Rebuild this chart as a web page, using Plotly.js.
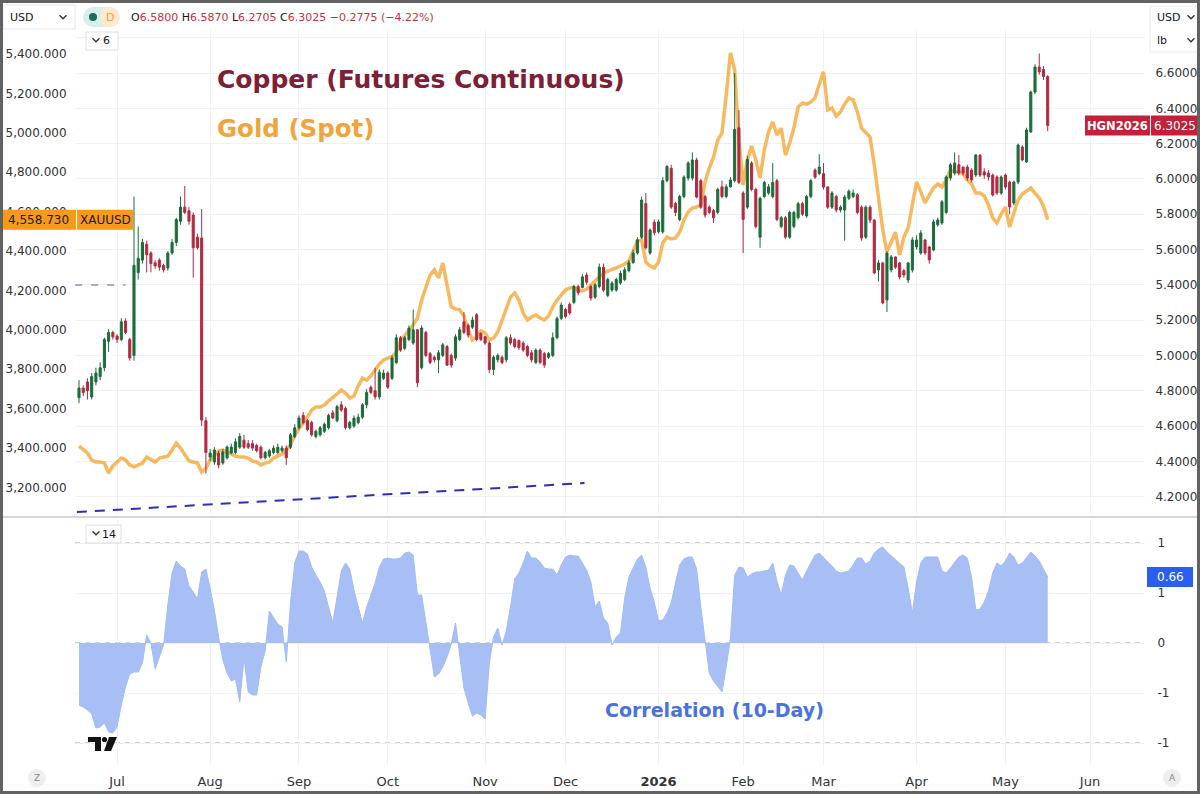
<!DOCTYPE html>
<html><head><meta charset="utf-8">
<script src="https://cdn.plot.ly/plotly-3.0.1.min.js"></script>
<style>
html,body{margin:0;padding:0;background:#fff;}
#chart{width:1200px;height:794px;position:absolute;left:0;top:0;}
#frame{position:absolute;left:0;top:0;width:1200px;height:794px;box-sizing:border-box;border:3px solid #626262;pointer-events:none;}
</style>
</head><body>
<div id="chart"></div><div id="frame"></div>
<script>
// ---------------- DATA ----------------
const monthIdx  = [9,31,52,73,96,115,137,157,176,198,219,239];
const monthText = ['Jul','Aug','Sep','Oct','Nov','Dec','<b>2026</b>','Feb','Mar','Apr','May','Jun'];

const goldTicks   = [3200,3400,3600,3800,4000,4200,4400,4600,4800,5000,5200,5400];
const copperTicks = [4.2,4.4,4.6,4.8,5.0,5.2,5.4,5.6,5.8,6.0,6.2,6.4,6.6,6.8];
const corrTicks   = [-1,-0.5,0,0.5,1];
const corrTickText= ['-1','-1','0','1','1'];

const copperOpen = [
4.76,4.815,4.85,4.765,4.85,4.88,4.93,5.08,5.13,5.11,
5.09,5.195,5.09,5.00,5.47,5.54,5.63,5.58,5.525,5.54,
5.51,5.495,5.58,5.64,5.76,5.84,5.82,5.795,5.67,5.665,
4.63,4.424,4.396,4.447,4.39,4.419,4.447,4.45,4.48,4.52,
4.50,4.50,4.49,4.48,4.42,4.43,4.45,4.45,4.46,4.475,
4.48,4.54,4.59,4.66,4.63,4.62,4.54,4.55,4.57,4.59,
4.675,4.63,4.72,4.70,4.59,4.60,4.62,4.65,4.72,4.82,
4.80,4.765,4.87,4.90,4.87,4.96,5.10,5.04,5.09,5.07,
5.145,4.93,5.13,5.01,4.99,4.975,5.00,5.05,5.00,4.985,
5.09,5.19,5.17,5.16,5.23,5.125,5.105,5.07,4.92,4.975,
4.99,4.975,5.10,5.09,5.085,5.07,5.05,5.015,4.96,5.03,
5.01,4.99,5.00,5.10,5.21,5.26,5.29,5.30,5.39,5.385,
5.455,5.39,5.33,5.39,5.50,5.34,5.37,5.37,5.41,5.43,
5.48,5.525,5.58,5.67,5.86,5.58,5.755,5.70,5.70,5.99,
6.06,5.86,5.77,5.90,6.005,6.005,6.107,5.99,5.90,5.84,
5.82,5.81,5.955,5.90,5.955,5.99,6.29,5.92,5.84,6.09,
5.94,5.67,5.90,5.92,5.90,5.99,5.73,5.78,5.67,5.73,
5.78,5.86,5.79,5.90,6.05,6.03,6.03,5.954,5.84,5.90,
5.824,5.824,5.89,5.90,5.91,5.84,5.67,5.84,5.767,5.484,
5.524,5.314,5.484,5.558,5.524,5.48,5.427,5.484,5.614,5.58,
5.654,5.614,5.597,5.74,5.75,5.81,6.005,6.033,6.08,6.067,
6.067,6.05,6.022,6.135,6.04,6.033,6.022,6.011,5.92,6.022,
5.982,5.863,5.982,6.181,6.096,6.266,6.492,6.634,6.62,6.58];

const copperHigh = [
4.86,4.83,4.87,4.90,4.93,4.96,5.10,5.15,5.14,5.12,
5.21,5.21,5.10,5.90,5.73,5.66,5.65,5.59,5.54,5.55,
5.52,5.59,5.66,5.78,5.90,5.96,5.84,5.81,5.69,5.83,
4.65,4.47,4.48,4.46,4.47,4.49,4.50,4.53,4.56,4.55,
4.52,4.52,4.50,4.49,4.46,4.47,4.49,4.50,4.49,4.49,
4.56,4.61,4.66,4.68,4.64,4.63,4.58,4.60,4.62,4.67,
4.69,4.72,4.74,4.71,4.63,4.66,4.67,4.73,4.81,4.83,
4.93,4.92,4.92,4.91,5.00,5.12,5.11,5.11,5.17,5.26,
5.15,5.17,5.14,5.02,5.00,5.03,5.07,5.06,5.01,5.12,
5.16,5.245,5.18,5.22,5.24,5.13,5.11,5.08,5.00,5.01,
5.00,5.11,5.12,5.10,5.09,5.08,5.06,5.03,5.04,5.04,
5.02,5.02,5.13,5.22,5.30,5.27,5.30,5.40,5.40,5.46,
5.47,5.40,5.41,5.52,5.52,5.44,5.42,5.44,5.48,5.50,
5.54,5.60,5.67,5.90,5.92,5.72,5.77,5.77,6.01,6.08,
6.08,5.87,5.91,6.02,6.10,6.15,6.12,6.00,5.91,5.85,
5.83,5.95,5.99,5.97,6.01,6.60,6.39,5.93,6.13,6.10,
5.95,5.90,5.99,5.97,6.09,6.00,5.79,5.79,5.82,5.82,
5.87,5.87,5.91,6.00,6.06,6.14,6.09,5.96,5.93,5.91,
5.85,5.91,5.94,5.94,5.92,5.85,5.85,5.85,5.77,5.54,
5.53,5.59,5.57,5.56,5.53,5.49,5.53,5.67,5.68,5.71,
5.66,5.62,5.77,5.78,5.88,6.02,6.09,6.15,6.135,6.07,
6.08,6.06,6.14,6.14,6.06,6.05,6.03,6.02,6.02,6.03,
5.99,5.99,6.20,6.19,6.29,6.50,6.65,6.71,6.64,6.587];

const copperLow = [
4.73,4.77,4.75,4.75,4.83,4.86,4.91,5.02,5.09,5.07,
5.08,5.12,4.97,4.97,5.43,5.52,5.47,5.47,5.49,5.48,
5.47,5.48,5.57,5.62,5.74,5.80,5.74,5.44,5.60,4.60,
4.33,4.40,4.38,4.36,4.38,4.41,4.44,4.44,4.47,4.47,
4.47,4.46,4.45,4.41,4.41,4.42,4.44,4.44,4.45,4.38,
4.47,4.53,4.58,4.61,4.57,4.54,4.53,4.54,4.56,4.58,
4.64,4.62,4.68,4.58,4.58,4.59,4.61,4.64,4.70,4.78,
4.75,4.75,4.86,4.81,4.86,4.95,5.02,5.03,5.08,5.06,
4.82,4.92,4.99,4.95,4.96,4.90,4.99,4.94,4.93,4.97,
5.08,5.12,5.10,5.15,5.08,5.08,5.06,4.90,4.89,4.96,
4.95,4.96,5.06,5.04,5.03,5.02,4.99,4.96,4.95,4.95,
4.93,4.98,4.99,5.09,5.20,5.21,5.23,5.29,5.34,5.38,
5.40,5.31,5.32,5.38,5.36,5.33,5.36,5.36,5.40,5.42,
5.47,5.52,5.57,5.66,5.60,5.57,5.68,5.69,5.69,5.98,
5.83,5.79,5.76,5.89,5.99,5.99,5.89,5.83,5.78,5.80,
5.75,5.80,5.89,5.89,5.95,5.98,5.97,5.58,5.83,5.93,
5.72,5.61,5.89,5.91,5.89,5.76,5.72,5.66,5.66,5.72,
5.77,5.79,5.78,5.89,6.00,6.02,5.94,5.83,5.83,5.81,
5.81,5.65,5.88,5.89,5.80,5.65,5.66,5.75,5.46,5.42,
5.29,5.246,5.47,5.49,5.43,5.44,5.41,5.47,5.60,5.57,
5.57,5.52,5.59,5.73,5.74,5.80,5.99,6.02,6.02,6.02,
5.99,5.98,6.01,6.01,6.00,5.99,5.90,5.91,5.91,5.94,
5.80,5.85,5.97,6.10,6.09,6.26,6.48,6.59,6.56,6.2705];

const copperClose = [
4.815,4.79,4.80,4.88,4.90,4.93,5.09,5.13,5.105,5.09,
5.19,5.13,4.985,5.51,5.55,5.64,5.57,5.52,5.507,5.50,
5.485,5.58,5.64,5.77,5.84,5.81,5.76,5.61,5.61,4.634,
4.45,4.447,4.464,4.379,4.453,4.481,4.481,4.51,4.54,4.48,
4.48,4.475,4.46,4.42,4.45,4.46,4.475,4.48,4.475,4.42,
4.55,4.59,4.645,4.62,4.58,4.55,4.57,4.59,4.61,4.66,
4.645,4.71,4.69,4.59,4.62,4.645,4.65,4.72,4.79,4.79,
4.765,4.905,4.90,4.82,4.985,5.10,5.03,5.10,5.155,5.145,
4.845,5.155,5.00,4.96,4.975,5.015,5.06,4.945,4.945,5.105,
5.145,5.13,5.115,5.20,5.09,5.09,5.07,4.92,4.99,5.00,
4.96,5.10,5.07,5.05,5.045,5.03,5.00,4.975,5.03,4.96,
4.945,5.01,5.10,5.21,5.285,5.22,5.24,5.39,5.355,5.445,
5.415,5.325,5.40,5.50,5.37,5.43,5.41,5.43,5.465,5.485,
5.525,5.58,5.655,5.88,5.61,5.71,5.695,5.756,5.99,6.07,
5.84,5.81,5.90,6.01,6.09,6.107,5.897,5.84,5.795,5.81,
5.78,5.94,5.90,5.955,5.994,6.28,5.98,5.77,6.11,5.94,
5.73,5.89,5.98,5.955,5.98,5.77,5.78,5.67,5.81,5.81,
5.86,5.80,5.90,5.99,6.01,6.067,5.954,5.84,5.92,5.824,
5.84,5.897,5.93,5.92,5.81,5.665,5.84,5.767,5.467,5.524,
5.297,5.58,5.558,5.50,5.444,5.456,5.524,5.654,5.654,5.694,
5.58,5.541,5.756,5.767,5.87,6.011,6.08,6.09,6.033,6.033,
6.005,5.994,6.135,6.022,6.022,6.011,5.909,5.92,6.011,5.954,
5.841,5.982,6.192,6.107,6.277,6.492,6.634,6.606,6.58,6.3025];

const goldSpot = [
3410,3390,3375,3339,3329,3329,3324,3273,3309,3329,
3349,3339,3314,3304,3314,3324,3354,3339,3329,3349,
3354,3359,3390,3425,3400,3365,3334,3329,3324,3278,
3298,3339,3365,3385,3390,3380,3370,3359,3354,3354,
3349,3334,3329,3314,3324,3329,3349,3359,3370,3390,
3415,3466,3497,3522,3557,3593,3608,3608,3618,3639,
3654,3674,3694,3679,3654,3664,3715,3755,3745,3766,
3796,3826,3847,3857,3862,3887,3943,3974,3999,4024,
4060,4151,4217,4278,4304,4263,4339,4227,4116,4106,
4101,4070,3999,3948,3963,3994,3984,3948,3958,3989,
4050,4116,4166,4187,4151,4085,4050,4065,4075,4060,
4050,4070,4116,4151,4177,4202,4212,4217,4202,4197,
4207,4227,4248,4268,4288,4298,4304,4314,4324,4334,
4349,4395,4451,4456,4344,4324,4314,4344,4441,4471,
4461,4466,4496,4557,4598,4618,4623,4634,4750,4821,
4877,4963,4999,5192,5405,5319,4963,4735,4862,4933,
4862,4771,4913,5004,5055,4989,5024,4887,4948,5024,
5131,5151,5146,5156,5177,5248,5309,5116,5126,5085,
5106,5146,5177,5167,5106,5024,5004,4979,4837,4659,
4507,4395,4446,4496,4380,4471,4517,4634,4750,4700,
4644,4684,4720,4740,4725,4760,4811,4801,4801,4791,
4760,4740,4694,4694,4679,4634,4568,4542,4588,4623,
4522,4593,4659,4689,4705,4720,4694,4669,4628,4558.73];

const corr10 = [
-0.62,-0.64,-0.67,-0.71,-0.85,-0.84,-0.80,-0.89,-0.90,-0.84,
-0.62,-0.44,-0.31,-0.29,-0.29,-0.20,0.08,0.00,-0.26,-0.14,
-0.02,0.38,0.70,0.82,0.77,0.74,0.57,0.51,0.44,0.71,
0.74,0.55,0.33,0.06,-0.17,-0.30,-0.38,-0.36,-0.59,-0.15,
-0.49,-0.52,-0.52,-0.24,-0.08,0.32,0.25,0.19,0.16,-0.19,
0.40,0.80,0.92,0.92,0.89,0.76,0.68,0.61,0.52,0.36,
0.20,0.46,0.72,0.80,0.74,0.53,0.36,0.20,0.36,0.48,
0.60,0.76,0.84,0.85,0.84,0.84,0.85,0.90,0.91,0.88,
0.48,0.48,0.20,-0.05,-0.34,-0.31,-0.24,-0.14,-0.01,0.20,
-0.10,-0.45,-0.60,-0.73,-0.70,-0.72,-0.76,-0.20,0.06,0.15,
-0.02,0.12,0.36,0.64,0.70,0.80,0.92,0.85,0.85,0.81,
0.75,0.74,0.74,0.68,0.78,0.86,0.88,0.87,0.87,0.80,
0.73,0.61,0.36,0.42,0.25,0.20,-0.02,0.06,0.10,0.45,
0.66,0.75,0.84,0.88,0.76,0.55,0.41,0.22,0.23,0.30,
0.40,0.60,0.78,0.84,0.86,0.86,0.74,0.36,0.00,-0.30,
-0.38,-0.44,-0.49,-0.24,0.05,0.68,0.76,0.75,0.66,0.69,
0.71,0.71,0.72,0.73,0.80,0.62,0.48,0.68,0.78,0.77,
0.70,0.63,0.72,0.80,0.88,0.90,0.85,0.81,0.77,0.72,
0.70,0.71,0.72,0.78,0.85,0.85,0.79,0.82,0.90,0.94,
0.96,0.91,0.87,0.83,0.80,0.76,0.55,0.30,0.61,0.80,
0.86,0.86,0.86,0.86,0.72,0.70,0.75,0.81,0.86,0.88,
0.85,0.66,0.33,0.34,0.41,0.52,0.70,0.80,0.77,0.82,
0.90,0.86,0.78,0.80,0.86,0.91,0.87,0.82,0.74,0.66];

// drawing: trend line and old price line (bar index, gold value)
const trendIdx  = [-0.5, 119.5];
const trendGold = [3075, 3222];
const priceLineIdx  = [-0.9, 11];
const priceLineGold = [4227, 4227];

// ---------------- CHART ----------------
const W = 1200, H = 794;
const fx = p => p / W;
const fy = p => 1 - p / H;
const N = copperClose.length;
const idx = copperClose.map((_, i) => i);
const xr = [-0.946, 252.0];

const lastGold = goldSpot[N - 1];
const lastCu = copperClose[N - 1];
const lastCorr = corr10[N - 1];
const chg = lastCu - copperClose[N - 2];
const pct = chg / copperClose[N - 2] * 100;

const gridC = '#eef1f6';
const tickFont = {family: 'DejaVu Sans', size: 12, color: '#333333'};

const traces = [
  {type: 'scatter', x: idx, y: corr10, xaxis: 'x2', yaxis: 'y3', mode: 'lines',
   line: {color: '#a3bcf4', width: 1}, fill: 'tozeroy', fillcolor: '#a7bff5', hoverinfo: 'skip'},
  {type: 'scatter', x: trendIdx, y: trendGold, xaxis: 'x', yaxis: 'y', mode: 'lines',
   line: {color: '#2f2fb5', width: 2, dash: '10px,8px'}, hoverinfo: 'skip'},
  {type: 'scatter', x: priceLineIdx, y: priceLineGold, xaxis: 'x', yaxis: 'y', mode: 'lines',
   line: {color: '#a8adc6', width: 2, dash: '7px,9px'}, hoverinfo: 'skip'},
  {type: 'scatter', x: idx, y: goldSpot, xaxis: 'x', yaxis: 'y', mode: 'lines',
   line: {color: 'rgba(245,170,60,0.82)', width: 3.5}, hoverinfo: 'skip'},
  {type: 'candlestick', x: idx, open: copperOpen, high: copperHigh, low: copperLow, close: copperClose,
   xaxis: 'x', yaxis: 'y2', whiskerwidth: 0,
   increasing: {line: {color: '#1d6b39', width: 1}, fillcolor: '#1d6b39'},
   decreasing: {line: {color: '#b12a40', width: 1}, fillcolor: '#b12a40'},
   hoverinfo: 'skip'}
];

function chev(cx, cy) {
  return {type: 'path', xref: 'paper', yref: 'paper', layer: 'above',
    path: `M ${fx(cx-3.5)},${fy(cy-1.8)} L ${fx(cx)},${fy(cy+1.8)} L ${fx(cx+3.5)},${fy(cy-1.8)}`,
    line: {color: '#333', width: 1.3}};
}
function prect(x0, y0, x1, y1, fill, line) {
  return {type: 'rect', xref: 'paper', yref: 'paper', layer: 'above',
    x0: fx(x0), x1: fx(x1), y0: fy(y1), y1: fy(y0), fillcolor: fill,
    line: {color: line || 'rgba(0,0,0,0)', width: line ? 1 : 0}};
}
function pcirc(cx, cy, r, fill) {
  return {type: 'circle', xref: 'paper', yref: 'paper', layer: 'above',
    x0: fx(cx-r), x1: fx(cx+r), y0: fy(cy+r), y1: fy(cy-r), fillcolor: fill, line: {width: 0}};
}
function axisBox(x0, x1, yref, val, fill) {
  return {type: 'rect', xref: 'paper', yref: yref, ysizemode: 'pixel', yanchor: val,
    x0: fx(x0), x1: fx(x1), y0: -10, y1: 10, fillcolor: fill, line: {width: 0}, layer: 'above'};
}

const shapes = [
  // lower pane dashed levels
  ...[1, 0, -1].map(v => ({type: 'line', xref: 'paper', yref: 'y3', x0: fx(75), x1: fx(1145), y0: v, y1: v,
    line: {color: '#a5a5a5', width: 1, dash: '5px,5px'}, layer: 'below'})),
  // pane separator
  {type: 'line', xref: 'paper', yref: 'paper', x0: 0, x1: 1, y0: fy(517), y1: fy(517),
   line: {color: '#d6d6d6', width: 2}, layer: 'above'},
  // price label boxes
  axisBox(0, 76, 'y', lastGold, '#f7981f'),
  axisBox(77, 133, 'y', lastGold, '#f7981f'),
  axisBox(1085, 1150, 'y2', lastCu, '#c1223a'),
  axisBox(1151, 1198, 'y2', lastCu, '#c1223a'),
  axisBox(1147, 1193, 'y3', lastCorr, '#2a5ef0'),
  // top-left symbol / header widgets
  prect(3, 5, 75, 29, '#ffffff', '#e6e6e6'),
  chev(63, 17),
  pcirc(93, 17, 10, '#d8eeea'),
  prect(93, 7, 103, 27, '#d8eeea'),
  pcirc(110, 17, 10, '#fde8d0'),
  prect(103, 7, 110, 27, '#fde8d0'),
  pcirc(93, 17, 4, '#1e6b5c'),
  prect(86, 32, 118, 50, '#ffffff', '#dedede'),
  chev(96, 40),
  // top-right unit widgets
  prect(1150, 6, 1198, 52, '#ffffff', '#ececec'),
  chev(1191, 17),
  chev(1191, 40),
  // lower pane length widget
  prect(86, 525, 121, 543, '#ffffff', '#dedede'),
  chev(96, 533),
  // bottom corner buttons
  pcirc(37, 778, 9, '#eeeeee'),
  pcirc(1172, 778, 9, '#eeeeee'),
  // TV logo
  {type: 'path', xref: 'paper', yref: 'paper', layer: 'above', fillcolor: '#111', line: {width: 0},
   path: `M ${fx(88)},${fy(737)} L ${fx(101)},${fy(737)} L ${fx(101)},${fy(751)} L ${fx(95)},${fy(751)} L ${fx(95)},${fy(742)} L ${fx(88)},${fy(742)} Z`},
  pcirc(104.5, 739.5, 2.6, '#111'),
  {type: 'path', xref: 'paper', yref: 'paper', layer: 'above', fillcolor: '#111', line: {width: 0},
   path: `M ${fx(109)},${fy(737)} L ${fx(117)},${fy(737)} L ${fx(111)},${fy(751)} L ${fx(104)},${fy(751)} Z`}
];

const red = '#c2343c';
const ann = [
  {xref: 'paper', yref: 'paper', x: fx(215), y: fy(79), xanchor: 'left', yanchor: 'middle', showarrow: false,
   text: '<b>Copper (Futures Continuous)</b>', font: {family: 'DejaVu Sans', size: 25, color: '#7b2036'}},
  {xref: 'paper', yref: 'paper', x: fx(215), y: fy(129), xanchor: 'left', yanchor: 'middle', showarrow: false,
   text: '<b>Gold (Spot)</b>', font: {family: 'DejaVu Sans', size: 24.5, color: '#f1a43c'}},
  {xref: 'paper', yref: 'paper', x: fx(603), y: fy(710), xanchor: 'left', yanchor: 'middle', showarrow: false,
   text: '<b>Correlation (10-Day)</b>', font: {family: 'DejaVu Sans', size: 19, color: '#4a72dc'}},
  // header
  {xref: 'paper', yref: 'paper', x: fx(8), y: fy(17), xanchor: 'left', yanchor: 'middle', showarrow: false,
   text: 'USD', font: {family: 'DejaVu Sans', size: 11, color: '#131722'}},
  {xref: 'paper', yref: 'paper', x: fx(110), y: fy(17), xanchor: 'center', yanchor: 'middle', showarrow: false,
   text: 'D', font: {family: 'DejaVu Sans', size: 11, color: '#f0a030'}},
  {xref: 'paper', yref: 'paper', x: fx(129), y: fy(17), xanchor: 'left', yanchor: 'middle', showarrow: false,
   font: {family: 'DejaVu Sans', size: 11, color: '#131722'},
   text: `O<span style="color:${red}">${copperOpen[N-1].toFixed(4)}</span> H<span style="color:${red}">${copperHigh[N-1].toFixed(4)}</span> L<span style="color:${red}">${copperLow[N-1].toFixed(4)}</span> C<span style="color:${red}">${lastCu.toFixed(4)}</span> <span style="color:${red}">${chg.toFixed(4).replace('-', '−')} (${pct.toFixed(2).replace('-', '−')}%)</span>`},
  {xref: 'paper', yref: 'paper', x: fx(106), y: fy(41), xanchor: 'center', yanchor: 'middle', showarrow: false,
   text: '6', font: {family: 'DejaVu Sans', size: 11, color: '#131722'}},
  {xref: 'paper', yref: 'paper', x: fx(1155), y: fy(17), xanchor: 'left', yanchor: 'middle', showarrow: false,
   text: 'USD', font: {family: 'DejaVu Sans', size: 11, color: '#131722'}},
  {xref: 'paper', yref: 'paper', x: fx(1155), y: fy(40), xanchor: 'left', yanchor: 'middle', showarrow: false,
   text: 'lb', font: {family: 'DejaVu Sans', size: 11, color: '#131722'}},
  {xref: 'paper', yref: 'paper', x: fx(109), y: fy(534), xanchor: 'center', yanchor: 'middle', showarrow: false,
   text: '14', font: {family: 'DejaVu Sans', size: 11, color: '#131722'}},
  {xref: 'paper', yref: 'paper', x: fx(37), y: fy(778), xanchor: 'center', yanchor: 'middle', showarrow: false,
   text: 'Z', font: {family: 'DejaVu Sans', size: 9, color: '#888'}},
  {xref: 'paper', yref: 'paper', x: fx(1172), y: fy(778), xanchor: 'center', yanchor: 'middle', showarrow: false,
   text: 'A', font: {family: 'DejaVu Sans', size: 9, color: '#888'}},
  // axis value labels
  {xref: 'paper', yref: 'y', x: fx(38), y: lastGold, xanchor: 'center', yanchor: 'middle', showarrow: false,
   text: lastGold.toLocaleString('en-US', {minimumFractionDigits: 3, maximumFractionDigits: 3}),
   font: {family: 'DejaVu Sans', size: 12, color: '#1d1d1d'}},
  {xref: 'paper', yref: 'y', x: fx(105), y: lastGold, xanchor: 'center', yanchor: 'middle', showarrow: false,
   text: 'XAUUSD', font: {family: 'DejaVu Sans', size: 12, color: '#1d1d1d'}},
  {xref: 'paper', yref: 'y2', x: fx(1117.5), y: lastCu, xanchor: 'center', yanchor: 'middle', showarrow: false,
   text: '<b>HGN2026</b>', font: {family: 'DejaVu Sans', size: 11.5, color: '#ffffff'}},
  {xref: 'paper', yref: 'y2', x: fx(1174.5), y: lastCu, xanchor: 'center', yanchor: 'middle', showarrow: false,
   text: lastCu.toFixed(4), font: {family: 'DejaVu Sans', size: 12, color: '#ffffff'}},
  {xref: 'paper', yref: 'y3', x: fx(1170), y: lastCorr, xanchor: 'center', yanchor: 'middle', showarrow: false,
   text: lastCorr.toFixed(2), font: {family: 'DejaVu Sans', size: 12, color: '#ffffff'}}
];

const layout = {
  width: W, height: H, margin: {l: 0, r: 0, t: 0, b: 0},
  paper_bgcolor: '#ffffff', plot_bgcolor: '#ffffff', showlegend: false,
  font: {family: 'DejaVu Sans', color: '#333'},
  xaxis: {domain: [fx(75), fx(1145)], range: xr, anchor: 'y', tickvals: monthIdx, showticklabels: false,
    showgrid: true, gridcolor: gridC, zeroline: false, showline: false, rangeslider: {visible: false}, ticks: ''},
  xaxis2: {domain: [fx(75), fx(1145)], range: xr, anchor: 'y3', tickvals: monthIdx, ticktext: monthText,
    showgrid: true, gridcolor: gridC, zeroline: false, showline: false, ticks: 'outside', ticklen: 4,
    tickcolor: 'rgba(0,0,0,0)', tickfont: {family: 'DejaVu Sans', size: 13, color: '#333'}},
  yaxis: {domain: [fy(515), fy(30)], range: [3060, 5521.8], tickvals: goldTicks, tickformat: ',.3f',
    showgrid: false, zeroline: false, showline: false, ticks: 'outside', ticklen: 5,
    tickcolor: 'rgba(0,0,0,0)', tickfont: tickFont},
  yaxis2: {overlaying: 'y', side: 'right', anchor: 'x', range: [4.0958, 6.8436], tickvals: copperTicks,
    ticktext: copperTicks.map(v => v > 6.7 ? '' : v.toFixed(4)),
    showgrid: true, gridcolor: gridC, zeroline: false, showline: false, ticks: 'outside', ticklen: 7,
    tickcolor: 'rgba(0,0,0,0)', tickfont: tickFont},
  yaxis3: {domain: [fy(765), fy(520)], anchor: 'x2', side: 'right', range: [-1.22, 1.23],
    tickvals: corrTicks, ticktext: corrTickText, showgrid: true, gridcolor: gridC, zeroline: false,
    showline: false, ticks: 'outside', ticklen: 9, tickcolor: 'rgba(0,0,0,0)', tickfont: tickFont},
  shapes: shapes,
  annotations: ann
};

Plotly.newPlot('chart', traces, layout, {displayModeBar: false, staticPlot: true});
</script>
</body></html>
